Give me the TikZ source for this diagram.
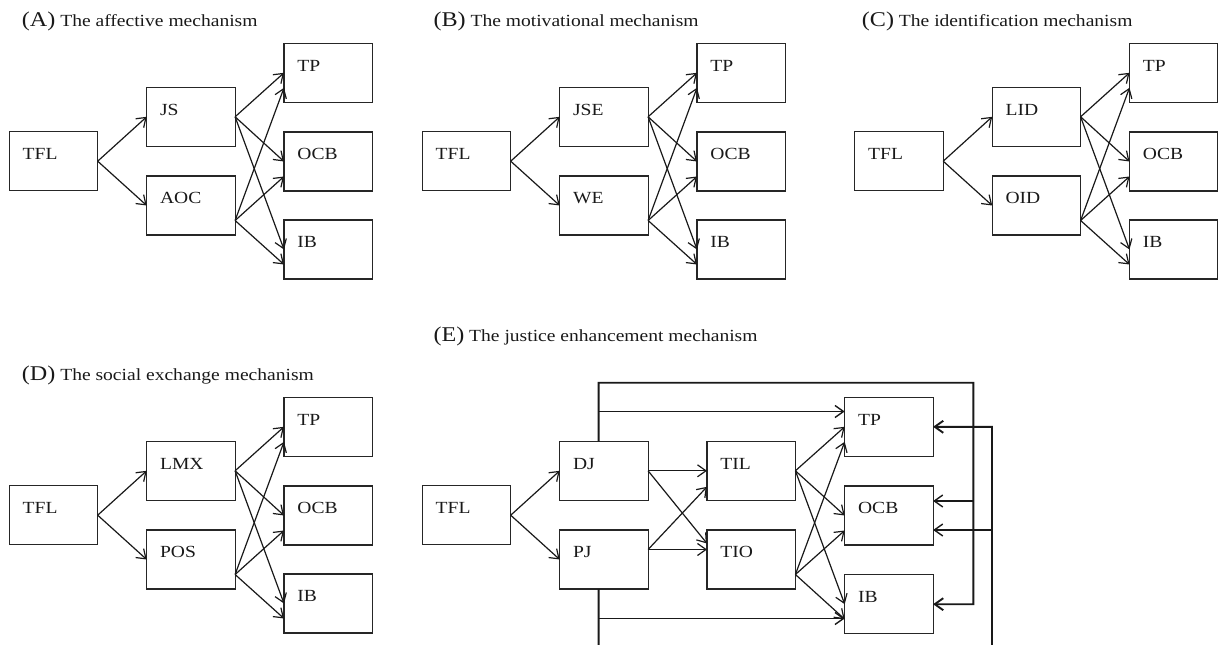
\documentclass[tikz,border=0pt]{standalone}
\usepackage{fontspec}
\setmainfont[FakeStretch=1.15]{Liberation Serif}
\usetikzlibrary{arrows.meta}
\newcommand{\lbl}[1]{{\fontsize{21bp}{24bp}\selectfont #1}}
\tikzset{
  every node/.style={font=\fontsize{17bp}{20bp}\selectfont, text=black!90},
  bx/.style={draw=black!85, line width=1.1bp, rectangle, anchor=north west, outer sep=0pt,
    inner xsep=13.4bp, inner ysep=16.3bp, text width=61.6bp, align=left,
    text height=11.6bp, text depth=14.8bp},
  ttl/.style={anchor=base west, inner sep=0pt},
  arr/.style={-{Straight Barb[length=8.5bp,width=12bp]}, draw=black!90, line width=1.2bp},
  fb/.style={-{Straight Barb[length=8.5bp,width=12bp]}, draw=black!90, line width=1.9bp},
  fbt/.style={-{Straight Barb[length=8.5bp,width=12bp]}, draw=black!90, line width=1.4bp}
}
\newcommand{\fanout}[5]{%
  \draw[arr] (#1.east) -- (#3.west);
  \draw[arr] (#1.east) -- (#4.west);
  \draw[arr] (#1.east) -- (#5.west);
  \draw[arr] ([yshift=-15bp]#2.east) -- ([yshift=-15bp]#3.west);
  \draw[arr] ([yshift=-15bp]#2.east) -- ([yshift=-15bp]#4.west);
  \draw[arr] ([yshift=-15bp]#2.east) -- ([yshift=-15bp]#5.west);
}
\newcommand{\mypanel}[5]{%
  \begin{scope}[shift={(#1,#2)}]
    \node[bx] (#3tfl) at (9.3,131.7) {TFL};
    \node[bx] (#3ma) at (146.7,87.3) {#4};
    \node[bx] (#3mb) at (146.7,176) {#5};
    \node[bx] (#3tp) at (284,43.3) {TP};
    \node[bx] (#3ocb) at (284,132) {OCB};
    \node[bx] (#3ib) at (284,220) {IB};
  \end{scope}
  \draw[arr] (#3tfl.east) -- (#3ma.west);
  \draw[arr] (#3tfl.east) -- (#3mb.west);
  \fanout{#3ma}{#3mb}{#3tp}{#3ocb}{#3ib}
}
\begin{document}
\begin{tikzpicture}[x=1bp,y=-1bp]
\useasboundingbox (0,0) rectangle (1223,645);
\clip (0,0) rectangle (1223,645);

% titles
\node[ttl] (tA) at (21.7,26.7) {\lbl{(A)} The affective mechanism};
\node[ttl] (tB) at (433.3,26.7) {\lbl{(B)} The motivational mechanism};
\node[ttl] (tC) at (861.7,26.7) {\lbl{(C)} The identification mechanism};
\node[ttl] (tD) at (21.7,380.5) {\lbl{(D)} The social exchange mechanism};
\node[ttl] (tE) at (433.3,341.5) {\lbl{(E)} The justice enhancement mechanism};

% panels A-D
\mypanel{0}{0}{a}{JS}{AOC}
\mypanel{413}{0}{b}{JSE}{WE}
\mypanel{845.5}{0}{c}{LID}{OID}
\mypanel{0}{354}{d}{LMX}{POS}

% panel E
\node[bx] (etfl) at (422.3,485.7) {TFL};
\node[bx] (edj) at (559.7,441.3) {DJ};
\node[bx] (epj) at (559.7,530) {PJ};
\node[bx] (etil) at (707,441.3) {TIL};
\node[bx] (etio) at (707,530) {TIO};
\node[bx] (etp) at (844.7,397.3) {TP};
\node[bx] (eocb) at (844.7,486) {OCB};
\node[bx] (eib) at (844.7,574.7) {IB};

\draw[arr] (etfl.east) -- (edj.west);
\draw[arr] (etfl.east) -- (epj.west);
\draw[arr] (edj.east) -- (etil.west);
\draw[arr] (edj.east) -- ([yshift=16bp]etio.west);
\draw[arr] ([yshift=10bp]epj.east) -- ([yshift=10bp]etio.west);
\draw[arr] ([yshift=10bp]epj.east) -- ([yshift=-16bp]etil.west);
\fanout{etil}{etio}{etp}{eocb}{eib}

% feedback loops
\coordinate (c1) at ([xshift=-5.3bp]edj.north);
\coordinate (c2) at ([xshift=-5.3bp]epj.south);
\coordinate (ftopl) at (598.6,382.7);
\coordinate (ftopr) at (973.3,382.7);
\coordinate (fbotl) at (598.6,668);
\coordinate (fbotr) at (992,668);
\coordinate (tpL) at ([yshift=15.3bp]etp.west);
\coordinate (ibL) at ([yshift=-14.3bp]eib.west);
\coordinate (ocbR1) at ([yshift=14.5bp]eocb.east);
\coordinate (ocbR2) at ([yshift=-14.5bp]eocb.east);

\draw[fb] (c1) -- (ftopl) -- (ftopr) -- (ftopr |- eib.east) -- (eib.east);
\draw[fbt] (ftopl |- tpL) -- (tpL);
\draw[fbt] (ftopr |- ocbR1) -- (ocbR1);
\draw[fb] (c2) -- (fbotl) -- (fbotr) -- (fbotr |- etp.east) -- (etp.east);
\draw[fbt] (fbotl |- ibL) -- (ibL);
\draw[fbt] (fbotr |- ocbR2) -- (ocbR2);
\end{tikzpicture}
\end{document}
